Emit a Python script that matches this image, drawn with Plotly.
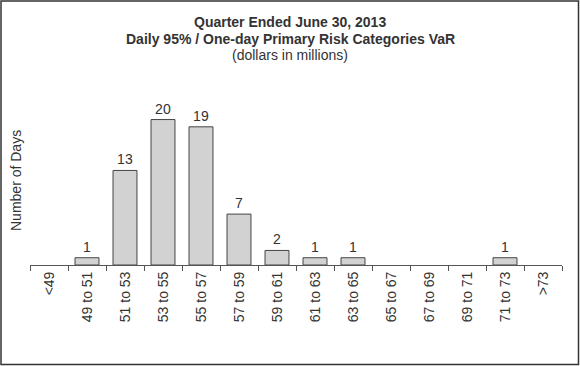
import plotly.graph_objects as go

categories = ["<49", "49 to 51", "51 to 53", "53 to 55", "55 to 57", "57 to 59", "59 to 61",
              "61 to 63", "63 to 65", "65 to 67", "67 to 69", "69 to 71", "71 to 73", ">73"]
days = [0, 1, 13, 20, 19, 7, 2, 1, 1, 0, 0, 0, 1, 0]
labels = [str(v) if v > 0 else "" for v in days]

W, H = 580, 366
ml, mr, mt, mb = 30, 18, 105, 101
pw, ph = W - ml - mr, H - mt - mb
FONT = "Liberation Sans, Arial"


def py(pix):
    return (H - mb - pix) / ph


def px(pix):
    return (pix - ml) / pw


fig = go.Figure(go.Bar(
    x=categories, y=days, text=labels, textposition="outside",
    textfont=dict(size=14, color="#333333", family=FONT),
    marker=dict(color="#d2d2d2",
                line=dict(color="#444444", width=[1 if v > 0 else 0 for v in days])),
    width=0.63, cliponaxis=False, hoverinfo="skip",
))

fig.update_layout(
    width=W, height=H, margin=dict(l=ml, r=mr, t=mt, b=mb),
    paper_bgcolor="white", plot_bgcolor="white", showlegend=False,
    font=dict(family=FONT, color="#333333", size=14),
    xaxis=dict(type="category", tickson="boundaries", ticks="outside", ticklen=5,
               tickcolor="#555555", showline=True, linecolor="#555555", linewidth=1,
               tickangle=-90, tickfont=dict(size=14, color="#333333"), showgrid=False),
    yaxis=dict(range=[0, 22], showticklabels=False, showgrid=False, zeroline=False,
               showline=False),
)

common = dict(xref="paper", yref="paper", showarrow=False, xanchor="center", yanchor="middle",
              font=dict(size=14, color="#333333", family=FONT))
fig.add_annotation(text="<b>Quarter Ended June 30, 2013</b>", x=px(290), y=py(22), **common)
fig.add_annotation(text="<b>Daily 95% / One-day Primary Risk Categories VaR</b>", x=px(290), y=py(39), **common)
fig.add_annotation(text="(dollars in millions)", x=px(290), y=py(55), **common)
fig.add_annotation(text="Number of Days", x=px(16), y=py(181), textangle=-90, **common)

fig.add_shape(type="rect", xref="paper", yref="paper", x0=px(1), x1=px(578.5), y0=py(364.5), y1=py(1),
              line=dict(color="#333333", width=1.5), layer="above")

fig.write_html("out.html", config={"displayModeBar": False, "staticPlot": True},
               post_script="document.body.style.margin='0';document.body.style.overflow='hidden';")
